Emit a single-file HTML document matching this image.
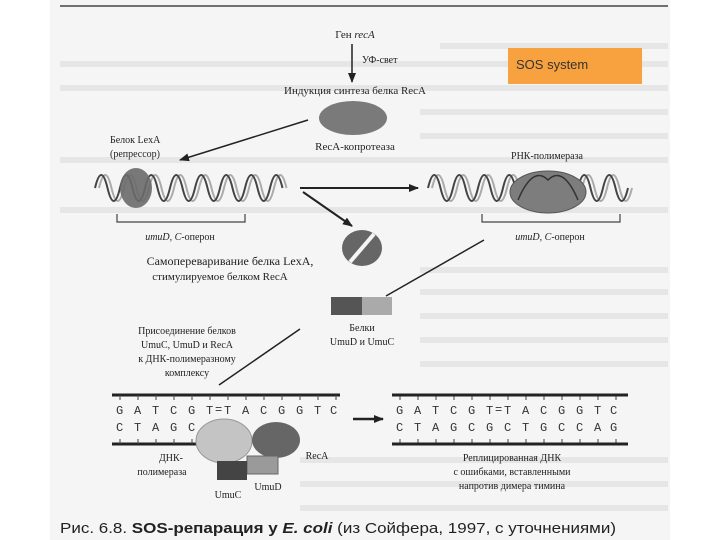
<!DOCTYPE html>
<html><head><meta charset="utf-8"><style>
html,body{margin:0;padding:0;background:#fff;}
svg{display:block;}
.s{font-family:"Liberation Serif",serif;fill:#222;}
.m{font-family:"Liberation Mono",monospace;fill:#333;font-size:12px;}
</style></head><body>
<svg width="720" height="540" viewBox="0 0 720 540" xmlns="http://www.w3.org/2000/svg">
<defs>
<marker id="ah" markerWidth="10" markerHeight="8" refX="9" refY="4" orient="auto" markerUnits="userSpaceOnUse">
<path d="M0,0 L10,4 L0,8 Z" fill="#222"/></marker>
</defs>
<rect x="50" y="0" width="620" height="540" fill="#f5f5f5"/>
<line x1="60" y1="6" x2="668" y2="6" stroke="#444" stroke-width="1.5"/>
<g stroke="#e6e6e6" stroke-width="6">
<line x1="440" y1="46" x2="668" y2="46"/><line x1="60" y1="64" x2="668" y2="64"/>
<line x1="60" y1="88" x2="668" y2="88"/><line x1="420" y1="112" x2="668" y2="112"/>
<line x1="420" y1="136" x2="668" y2="136"/><line x1="60" y1="160" x2="668" y2="160"/>
<line x1="60" y1="210" x2="668" y2="210"/><line x1="420" y1="270" x2="668" y2="270"/>
<line x1="420" y1="292" x2="668" y2="292"/><line x1="420" y1="316" x2="668" y2="316"/>
<line x1="420" y1="340" x2="668" y2="340"/><line x1="420" y1="364" x2="668" y2="364"/>
<line x1="300" y1="460" x2="668" y2="460"/><line x1="300" y1="484" x2="668" y2="484"/>
<line x1="300" y1="508" x2="668" y2="508"/>
</g>
<rect x="508" y="48" width="134" height="36" fill="#f7a23e"/>
<text x="516" y="69" font-family="Liberation Sans,sans-serif" font-size="13" fill="#333">SOS system</text>

<text class="s" x="355" y="38" font-size="11" text-anchor="middle">Ген <tspan font-style="italic">recA</tspan></text>
<line x1="352" y1="44" x2="352" y2="82" stroke="#222" stroke-width="1.5" marker-end="url(#ah)"/>
<text class="s" x="362" y="63" font-size="10">УФ-свет</text>
<text class="s" x="355" y="94" font-size="11" text-anchor="middle">Индукция синтеза белка RecA</text>
<ellipse cx="353" cy="118" rx="34" ry="17" fill="#7a7a7a"/>
<text class="s" x="355" y="150" font-size="11" text-anchor="middle">RecA-копротеаза</text>
<line x1="308" y1="120" x2="180" y2="160" stroke="#222" stroke-width="1.5" marker-end="url(#ah)"/>
<text class="s" x="110" y="143" font-size="10">Белок LexA</text>
<text class="s" x="110" y="157" font-size="10">(репрессор)</text>

<g fill="none" stroke-width="2">
<path stroke="#aaa" d="M99,188 Q105.25,162 111.5,188 T124,188 T136.5,188 T149,188 T161.5,188 T174,188 T186.5,188 T199,188 T211.5,188 T224,188 T236.5,188 T249,188 T261.5,188 T274,188 T286.5,188"/>
<path stroke="#444" d="M95,188 Q101.25,162 107.5,188 T120,188 T132.5,188 T145,188 T157.5,188 T170,188 T182.5,188 T195,188 T207.5,188 T220,188 T232.5,188 T245,188 T257.5,188 T270,188 T282.5,188"/>
</g>
<ellipse cx="136" cy="188" rx="16" ry="20" fill="#6a6a6a" opacity="0.9"/>
<path d="M117,214 V222 H245 V214" fill="none" stroke="#444" stroke-width="1.2"/>
<text class="s" x="180" y="240" font-size="10" text-anchor="middle"><tspan font-style="italic">umuD, C</tspan>-оперон</text>

<line x1="300" y1="188" x2="418" y2="188" stroke="#222" stroke-width="2" marker-end="url(#ah)"/>
<line x1="303" y1="192" x2="352" y2="226" stroke="#222" stroke-width="2" marker-end="url(#ah)"/>

<g fill="none" stroke-width="2">
<path stroke="#aaa" d="M432,188 Q438.25,162 444.5,188 T457,188 T469.5,188 T482,188 T494.5,188 T507,188 T519.5,188 T532,188 T544.5,188 T557,188 T569.5,188 T582,188 T594.5,188 T607,188 T619.5,188 T632,188"/>
<path stroke="#444" d="M428,188 Q434.25,162 440.5,188 T453,188 T465.5,188 T478,188 T490.5,188 T503,188 T515.5,188 T528,188 T540.5,188 T553,188 T565.5,188 T578,188 T590.5,188 T603,188 T615.5,188 T628,188"/>
</g>
<ellipse cx="548" cy="192" rx="38" ry="21" fill="#7d7d7d" stroke="#555"/>
<path d="M518,200 Q533,165 548,180 Q563,165 578,200" fill="none" stroke="#333" stroke-width="1.5"/>
<text class="s" x="547" y="159" font-size="10" text-anchor="middle">РНК-полимераза</text>
<path d="M482,214 V222 H620 V214" fill="none" stroke="#444" stroke-width="1.2"/>
<text class="s" x="550" y="240" font-size="10" text-anchor="middle"><tspan font-style="italic">umuD, C</tspan>-оперон</text>

<ellipse cx="362" cy="248" rx="20" ry="18" fill="#666"/>
<line x1="350" y1="262" x2="374" y2="234" stroke="#f5f5f5" stroke-width="4"/>
<line x1="484" y1="240" x2="386" y2="296" stroke="#222" stroke-width="1.5"/>
<text class="s" x="230" y="265" font-size="12" text-anchor="middle">Самопереваривание белка LexA,</text>
<text class="s" x="220" y="280" font-size="11" text-anchor="middle">стимулируемое белком RecA</text>

<rect x="331" y="297" width="31" height="18" fill="#555"/>
<rect x="362" y="297" width="30" height="18" fill="#aaa"/>
<text class="s" x="362" y="331" font-size="10" text-anchor="middle">Белки</text>
<text class="s" x="362" y="345" font-size="10" text-anchor="middle">UmuD и UmuC</text>
<text class="s" x="187" y="334" font-size="10" text-anchor="middle">Присоединение белков</text>
<text class="s" x="187" y="348" font-size="10" text-anchor="middle">UmuC, UmuD и RecA</text>
<text class="s" x="187" y="362" font-size="10" text-anchor="middle">к ДНК-полимеразному</text>
<text class="s" x="187" y="376" font-size="10" text-anchor="middle">комплексу</text>
<line x1="300" y1="329" x2="219" y2="385" stroke="#222" stroke-width="1.5"/>

<line x1="112" y1="395" x2="340" y2="395" stroke="#222" stroke-width="3"/>
<line x1="112" y1="444" x2="205" y2="444" stroke="#222" stroke-width="3"/>
<g stroke="#444" stroke-width="1">
<path d="M120,395v5M138,395v5M156,395v5M174,395v5M192,395v5M210,395v5M228,395v5M246,395v5M264,395v5M282,395v5M300,395v5M318,395v5M336,395v5"/>
<path d="M120,444v-5M138,444v-5M156,444v-5M174,444v-5M192,444v-5"/>
<path d="M400,395v5M418,395v5M436,395v5M454,395v5M472,395v5M490,395v5M508,395v5M526,395v5M544,395v5M562,395v5M580,395v5M598,395v5M616,395v5"/>
<path d="M400,444v-5M418,444v-5M436,444v-5M454,444v-5M472,444v-5M490,444v-5M508,444v-5M526,444v-5M544,444v-5M562,444v-5M580,444v-5M598,444v-5M616,444v-5"/>
</g>
<text class="m" x="116 134 152 170 188 206 224 242 260 278 296 314 330" y="414">GATCGTTACGGTC</text>
<text class="m" x="215" y="413">=</text>
<text class="m" x="116 134 152 170 188" y="431">CTAGC</text>
<ellipse cx="224" cy="441" rx="28" ry="22" fill="#c4c4c4" stroke="#999"/>
<ellipse cx="276" cy="440" rx="24" ry="18" fill="#666"/>
<rect x="247" y="456" width="31" height="18" fill="#9a9a9a" stroke="#666"/>
<rect x="217" y="461" width="30" height="19" fill="#444"/>
<text class="s" x="171" y="461" font-size="10" text-anchor="middle">ДНК-</text>
<text class="s" x="162" y="475" font-size="10" text-anchor="middle">полимераза</text>
<text class="s" x="317" y="459" font-size="10" text-anchor="middle">RecA</text>
<text class="s" x="268" y="490" font-size="10" text-anchor="middle">UmuD</text>
<text class="s" x="228" y="498" font-size="10" text-anchor="middle">UmuC</text>

<line x1="353" y1="419" x2="383" y2="419" stroke="#222" stroke-width="2.5" marker-end="url(#ah)"/>

<line x1="392" y1="395" x2="628" y2="395" stroke="#222" stroke-width="3"/>
<line x1="392" y1="444" x2="628" y2="444" stroke="#222" stroke-width="3"/>
<text class="m" x="396 414 432 450 468 486 504 522 540 558 576 594 610" y="414">GATCGTTACGGTC</text>
<text class="m" x="495" y="413">=</text>
<text class="m" x="396 414 432 450 468 486 504 522 540 558 576 594 610" y="431">CTAGCGCTGCCAG</text>
<text class="s" x="512" y="461" font-size="10" text-anchor="middle">Реплицированная ДНК</text>
<text class="s" x="512" y="475" font-size="10" text-anchor="middle">с ошибками, вставленными</text>
<text class="s" x="512" y="489" font-size="10" text-anchor="middle">напротив димера тимина</text>

<text x="60" y="533" font-family="Liberation Sans,sans-serif" font-size="15" fill="#222" textLength="556" lengthAdjust="spacingAndGlyphs">Рис. 6.8. <tspan font-weight="bold">SOS-репарация у <tspan font-style="italic">E. coli</tspan></tspan> (из Сойфера, 1997, с уточнениями)</text>
</svg>
</body></html>
